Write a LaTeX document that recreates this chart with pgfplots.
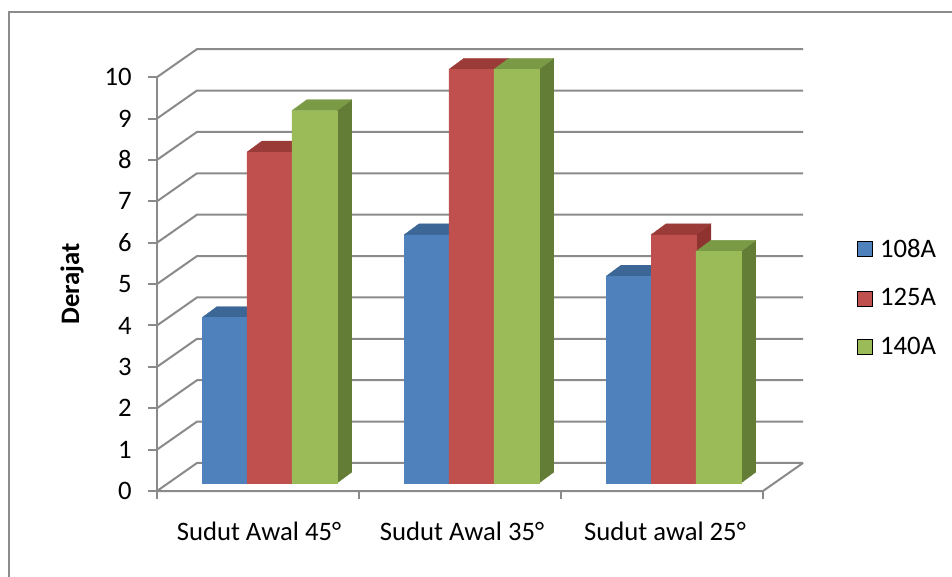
\documentclass[border=0pt]{standalone}
\usepackage{pgfplots}
\pgfplotsset{compat=1.18}
\usepackage{fontspec}
\setmainfont{Carlito}
\definecolor{bF}{HTML}{4F81BD}
\definecolor{bT}{HTML}{3C6696}
\definecolor{bS}{HTML}{2F5280}
\definecolor{rF}{HTML}{C0504D}
\definecolor{rT}{HTML}{9B3B38}
\definecolor{rS}{HTML}{8E3330}
\definecolor{gF}{HTML}{9BBB59}
\definecolor{gT}{HTML}{7A9A46}
\definecolor{gS}{HTML}{647D36}
\definecolor{gridc}{HTML}{8A8A8A}
\definecolor{borderc}{HTML}{8C8C8C}
\newcommand\bw{0.2225}
\newcommand\bdx{0.074}
\newcommand\bdy{0.266}
\newcommand\bbase{0.19}
% 3D bar: #1 left x, #2 value, #3 series colour prefix
\newcommand{\tdbar}[3]{%
 \pgfmathsetmacro\xL{#1}%
 \pgfmathsetmacro\xR{#1+\bw}%
 \pgfmathsetmacro\xLd{#1+\bdx}%
 \pgfmathsetmacro\xRd{#1+\bw+\bdx}%
 \pgfmathsetmacro\yB{\bbase}%
 \pgfmathsetmacro\yT{#2+\bbase}%
 \pgfmathsetmacro\yBd{\bbase+\bdy}%
 \pgfmathsetmacro\yTd{#2+\bbase+\bdy}%
 \edef\tmp{%
  \noexpand\addplot[fill=#3S,draw=#3S,line width=0.2pt,forget plot] coordinates {(\xR,\yB) (\xR,\yT) (\xRd,\yTd) (\xRd,\yBd) (\xR,\yB)};
  \noexpand\addplot[fill=#3T,draw=#3T,line width=0.2pt,forget plot] coordinates {(\xL,\yT) (\xR,\yT) (\xRd,\yTd) (\xLd,\yTd) (\xL,\yT)};
  \noexpand\addplot[fill=#3F,draw=#3F,line width=0.2pt,forget plot] coordinates {(\xL,\yB) (\xR,\yB) (\xR,\yT) (\xL,\yT) (\xL,\yB)};
 }\tmp}
\begin{document}
\begin{tikzpicture}
\path[use as bounding box] (-117.75pt,-63.75pt) rectangle (596.25pt,368.25pt);
\draw[borderc,line width=1.5pt] (-111pt,-80pt) -- (-111pt,359.25pt) -- (610pt,359.25pt);
\begin{axis}[
  at={(0,0)}, anchor=south west,
  scale only axis, width=484.5pt, height=331.5pt,
  xmin=0, xmax=3.198, ymin=0, ymax=10.68,
  clip=false, no markers,
  axis x line*=bottom, axis y line*=left,
  axis line style={draw=none},
  font=\fontsize{20}{23}\selectfont,
  /pgf/number format/assume math mode=true,
  ytick={0,1,...,10},
  xtick={0.505,1.51,2.515},
  xticklabels={Sudut Awal 45°, Sudut Awal 35°, Sudut awal 25°},
  tick align=outside,
  major tick length=6.75pt,
  ytick style={gridc,line width=1.5pt},
  xtick style={draw=none},
  yticklabel style={anchor=east, inner sep=0pt, xshift=-12pt},
  xticklabel style={anchor=base, inner sep=0pt, yshift=-30.5pt},
  legend style={draw=none, fill=none, at={(1.083,0.437)}, anchor=west,
     font=\fontsize{20}{23}\selectfont, row sep=18pt, inner sep=0pt},
  legend cell align=left,
  legend image code/.code={\fill[#1] (0pt,-5.6pt) rectangle (11.25pt,5.6pt); \path (15pt,0pt);},
]
% back wall gridlines
\pgfplotsinvokeforeach{0,...,10}{%
  \pgfmathsetmacro\ya{#1}\pgfmathsetmacro\yb{#1+0.677}%
  \edef\tmp{\noexpand\addplot[gridc,line width=1.5pt,forget plot] coordinates {(0,\ya) (0.198,\yb) (3.198,\yb)};}\tmp
}
% floor front and right edges
\addplot[gridc,line width=1.5pt,forget plot] coordinates {(0,0) (3,0) (3.198,0.677)};
% y axis line
\addplot[gridc,line width=1.5pt,forget plot] coordinates {(0,0) (0,10)};
% x tick marks
\addplot[gridc,line width=1.5pt,forget plot] coordinates {(0,0) (0,-0.19)};
\addplot[gridc,line width=1.5pt,forget plot] coordinates {(1,0) (1,-0.19)};
\addplot[gridc,line width=1.5pt,forget plot] coordinates {(2,0) (2,-0.19)};
\addplot[gridc,line width=1.5pt,forget plot] coordinates {(3,0) (3,-0.19)};
% bars: Sudut Awal 45
\tdbar{0.223}{4}{b}
\tdbar{0.4455}{8}{r}
\tdbar{0.668}{9}{g}
% Sudut Awal 35
\tdbar{1.223}{6}{b}
\tdbar{1.4455}{10}{r}
\tdbar{1.668}{10}{g}
% Sudut awal 25
\tdbar{2.223}{5}{b}
\tdbar{2.4455}{6}{r}
\tdbar{2.668}{5.6}{g}
\addlegendimage{fill=bF}\addlegendentry{108A}
\addlegendimage{fill=rF}\addlegendentry{125A}
\addlegendimage{fill=gF}\addlegendentry{140A}
\node[rotate=90, font=\fontsize{20}{23}\selectfont\bfseries] at ([xshift=-63.75pt]axis cs:0,5) {Derajat};
\end{axis}
\end{tikzpicture}
\end{document}
